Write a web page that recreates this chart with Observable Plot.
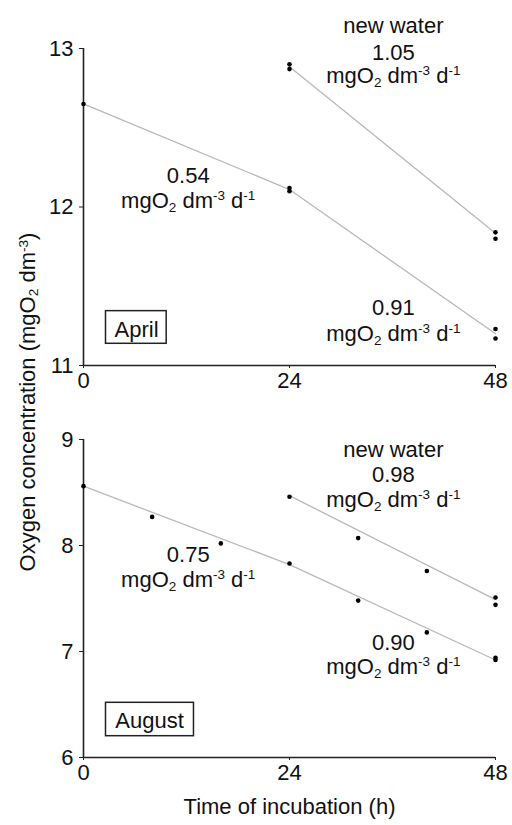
<!DOCTYPE html>
<html>
<head>
<meta charset="utf-8">
<script src="https://cdn.jsdelivr.net/npm/d3@7"></script>
<script src="https://cdn.jsdelivr.net/npm/@observablehq/plot@0.6"></script>
<style>
  body { margin: 0; background: #fff; font-family: "Liberation Sans", Arial, sans-serif; }
  #wrap { position: relative; width: 512px; height: 825px; overflow: hidden; background: #fff; }
  #top { position: absolute; left: 0; top: 0; }
  #bot { position: absolute; left: 0; top: 400px; }
  #ylab { position: absolute; left: 28px; top: 402px; transform: translate(-50%, -50%) rotate(-90deg);
          white-space: nowrap; font-size: 22px; color: #111; z-index: 5; line-height: 1; }
  #ylab sub, #ylab sup { font-size: 0.62em; line-height: 0; }
  #ylab sub { vertical-align: -0.25em; }
  #ylab sup { vertical-align: 0.55em; }
</style>
</head>
<body>
<div id="wrap">
  <div id="top"></div>
  <div id="bot"></div>
  <div id="ylab">Oxygen concentration (mgO<sub>2</sub> dm<sup>-3</sup>)</div>
</div>
<script>
// ---------- data ----------
const UNIT = "mgO2 dm-3 d-1";
const hourTicks = [0, 24, 48];

// April
const aprilTicks = [11, 12, 13];
const aprilHours = [0, 24, 24, 48, 48];
const aprilOxygen = [12.65, 12.12, 12.10, 11.23, 11.17];
const aprilNewHours = [24, 24, 48, 48];
const aprilNewOxygen = [12.90, 12.87, 11.84, 11.80];
const aprilLineHours = [0, 24, 48];
const aprilLineOxygen = [12.65, 12.11, 11.20];
const aprilNewLineHours = [24, 48];
const aprilNewLineOxygen = [12.885, 11.835];
const aprilNotes = ["new water", "1.05", UNIT, "0.54", UNIT, "0.91", UNIT];
const aprilNoteHours = [36.1, 36.1, 36.1, 12.2, 12.2, 36.1, 36.1];
const aprilNoteOxygen = [13.14, 12.975, 12.825, 12.194, 12.04, 11.36, 11.197];

// August
const augustTicks = [6, 7, 8, 9];
const augustHours = [0, 8, 16, 24, 32, 40, 48, 48];
const augustOxygen = [8.56, 8.27, 8.02, 7.83, 7.48, 7.18, 6.94, 6.92];
const augustNewHours = [24, 32, 40, 48, 48];
const augustNewOxygen = [8.46, 8.07, 7.76, 7.51, 7.44];
const augustLineHours = [0, 24, 48];
const augustLineOxygen = [8.56, 7.82, 6.92];
const augustNewLineHours = [24, 48];
const augustNewLineOxygen = [8.47, 7.49];
const augustNotes = ["new water", "0.98", UNIT, "0.75", UNIT, "0.90", UNIT];
const augustNoteHours = [36.1, 36.1, 36.1, 12.2, 12.2, 36.1, 36.1];
const augustNoteOxygen = [8.90, 8.663, 8.427, 7.908, 7.673, 7.082, 6.85];

const xLabel = "Time of incubation (h)";

// ---------- helpers ----------
const pts = (xs, ys) => xs.map((x, i) => ({x, y: ys[i]}));
const notes = (ts, xs, ys) => ts.map((t, i) => ({t, x: xs[i], y: ys[i]}));
const FONT = "Liberation Sans, Arial, sans-serif";
const AX = "#222";

function richUnits(svg) {
  d3.select(svg).selectAll("text").each(function () {
    if (this.textContent === UNIT) {
      const t = d3.select(this);
      t.text(null);
      t.append("tspan").text("mgO");
      t.append("tspan").attr("font-size", "13.5px").attr("dy", "4").text("2");
      t.append("tspan").attr("dy", "-4").text(" dm");
      t.append("tspan").attr("font-size", "13.5px").attr("dy", "-8").text("-3");
      t.append("tspan").attr("dy", "8").text(" d");
      t.append("tspan").attr("font-size", "13.5px").attr("dy", "-8").text("-1");
    }
  });
}

function panel({height, marginTop, marginBottom, yTicks, main, fresh, mainLine, freshLine, noteData, box, boxText, extra}) {
  const yDomain = [yTicks[0], yTicks[yTicks.length - 1]];
  const svg = Plot.plot({
    width: 512, height, marginLeft: 83, marginRight: 17, marginTop, marginBottom,
    style: {fontFamily: FONT, fontSize: "22px", color: "#111", background: "white", overflow: "visible"},
    x: {domain: [0, 48]},
    y: {domain: yDomain},
    marks: [
      Plot.line(mainLine, {x: "x", y: "y", stroke: "#b8b8b8", strokeWidth: 1.3}),
      Plot.line(freshLine, {x: "x", y: "y", stroke: "#b8b8b8", strokeWidth: 1.3}),
      Plot.axisX({ticks: hourTicks, tickFormat: d3.format("d"), tickSize: 3, tickPadding: 4, label: null, fontSize: 22, stroke: AX}),
      Plot.axisY({ticks: yTicks, tickFormat: d3.format("d"), tickSize: 4, tickPadding: 6, label: null, fontSize: 22, stroke: AX}),
      Plot.ruleY([yDomain[0]], {stroke: AX, strokeWidth: 1.6}),
      Plot.ruleX([0], {stroke: AX, strokeWidth: 1.6}),
      Plot.dot(main, {x: "x", y: "y", r: 2.3, fill: "#000", stroke: null}),
      Plot.dot(fresh, {x: "x", y: "y", r: 2.3, fill: "#000", stroke: null}),
      Plot.text(noteData, {x: "x", y: "y", text: "t", fontSize: 22, fill: "#111", textAnchor: "middle"}),
      Plot.rect([0], {...box, fill: "white", stroke: AX, strokeWidth: 1.5}),
      Plot.text([boxText.t], {x: boxText.x, y: boxText.y, fontSize: 22, fill: "#111"}),
      ...(extra || [])
    ]
  });
  richUnits(svg);
  return svg;
}

const topSvg = panel({
  height: 400, marginTop: 48, marginBottom: 35, yTicks: aprilTicks,
  main: pts(aprilHours, aprilOxygen),
  fresh: pts(aprilNewHours, aprilNewOxygen),
  mainLine: pts(aprilLineHours, aprilLineOxygen),
  freshLine: pts(aprilNewLineHours, aprilNewLineOxygen),
  noteData: notes(aprilNotes, aprilNoteHours, aprilNoteOxygen),
  box: {x1: 2.62, x2: 9.69, y1: 11.137, y2: 11.343},
  boxText: {t: "April", x: 6.18, y: 11.227}
});

const botSvg = panel({
  height: 425, marginTop: 39, marginBottom: 68, yTicks: augustTicks,
  main: pts(augustHours, augustOxygen),
  fresh: pts(augustNewHours, augustNewOxygen),
  mainLine: pts(augustLineHours, augustLineOxygen),
  freshLine: pts(augustNewLineHours, augustNewLineOxygen),
  noteData: notes(augustNotes, augustNoteHours, augustNoteOxygen),
  box: {x1: 2.62, x2: 12.87, y1: 6.201, y2: 6.516},
  boxText: {t: "August", x: 7.69, y: 6.346},
  extra: [Plot.text([xLabel], {frameAnchor: "bottom", dy: 56, fontSize: 22, fill: "#111"})]
});

document.getElementById("top").appendChild(topSvg);
document.getElementById("bot").appendChild(botSvg);
</script>
</body>
</html>
